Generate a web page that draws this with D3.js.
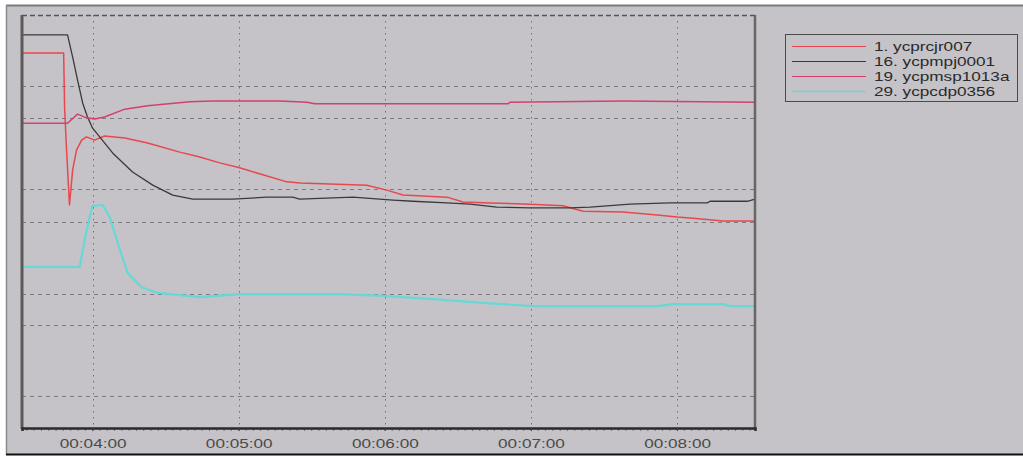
<!DOCTYPE html>
<html>
<head>
<meta charset="utf-8">
<script src="https://cdn.jsdelivr.net/npm/d3@7"></script>
<style>
  body { margin: 0; background: #fff; }
  svg { display: block; }
  text { font-family: "Liberation Sans", Arial, sans-serif; }
</style>
</head>
<body>
<div id="chart"></div>
<script>
// time in seconds, value on a 0-100 scale
const seriesNames = ['1. ycprcjr007', '16. ycpmpj0001', '19. ycpmsp1013a', '29. ycpcdp0356'];
const seriesColors = ['#e8474e', '#3a3a3a', '#d4406e', '#66d8d6'];
const seriesWidths = [1.5, 1.3, 1.5, 2.2];

const red = [
  [211, 90.8], [228.1, 90.8], [228.5, 77.5], [229.3, 67.3], [230.5, 54.0], [231.8, 62.5],
  [233.4, 67.3], [235.5, 69.7], [237.5, 70.5], [240.8, 69.7], [244.9, 70.7], [253.2, 70.2],
  [262.6, 69.0], [275.8, 66.8], [284, 65.6], [292.2, 64.2], [300.4, 63.0], [309.9, 61.3],
  [319.7, 59.6], [325.1, 59.3], [337.4, 59.1], [352.6, 58.8], [360.8, 57.6], [367.4, 56.4],
  [385.5, 55.9], [392.1, 54.7], [403.2, 54.5], [419.6, 54.2], [433.2, 53.8], [441.4, 52.5],
  [457.8, 52.3], [471.8, 51.6], [480, 51.1], [486.6, 50.8], [498.9, 50.1], [512, 50.1]
];
const black = [
  [211, 95.2], [229.7, 95.2], [231.8, 89.8], [233.8, 84.3], [235.9, 78.7], [237.9, 75.3],
  [240, 72.6], [242.9, 70.5], [248.2, 66.6], [256.4, 62.0], [264.7, 58.8], [272.9, 56.4],
  [281.1, 55.4], [297.5, 55.4], [311.5, 55.9], [322.2, 55.9], [325, 55.4], [346.9, 55.9],
  [363.3, 55.2], [371.5, 54.9], [385.5, 54.5], [395, 54.2], [406, 53.5], [419.6, 53.3],
  [436, 53.3], [444.3, 53.5], [460.7, 54.2], [477.2, 54.5], [492.4, 54.5], [493.6, 54.9],
  [508.8, 54.9], [512, 55.4]
];
const pink = [
  [211, 73.8], [229.7, 73.8], [233.8, 76.0], [237.5, 75.1], [240.8, 74.8], [244.9, 75.3],
  [253.2, 77.2], [262.6, 78.0], [279.9, 79.0], [289.3, 79.2], [316.9, 79.2], [328, 78.9],
  [331.2, 78.5], [410.6, 78.5], [411.4, 78.9], [457.8, 79.2], [512, 78.9]
];
const cyan = [
  [211, 39.0], [234.7, 39.0], [236.7, 45.5], [238.8, 51.1], [240, 53.8], [244.1, 54.0],
  [247, 51.1], [250.3, 44.8], [254.4, 37.5], [260.1, 34.1], [266.7, 32.7], [284, 31.7],
  [300.4, 32.4], [341.5, 32.4], [359.2, 32.0], [379.7, 31.2], [400.3, 30.3], [420.8, 29.5],
  [471.8, 29.5], [478.4, 30.0], [498.9, 30.0], [501.8, 29.5], [512, 29.5]
];
const allSeries = [red, black, pink, cyan];

const xTicks = [240, 300, 360, 420, 480];
const xTickLabels = ['00:04:00', '00:05:00', '00:06:00', '00:07:00', '00:08:00'];
const yGridA = [25, 50, 75];
const yGridB = [7.7, 32.5, 57.8, 82.8];

const W = 1023, H = 459;
const plot = { left: 22, top: 15, right: 755, bottom: 428 };
const stretch = 1.32; // text in the picture is drawn wider than normal

const svg = d3.select('#chart').append('svg')
  .attr('width', W).attr('height', H);

// panel background
svg.append('rect')
  .attr('x', 7).attr('y', 6).attr('width', W - 7).attr('height', 448)
  .attr('fill', '#c5c3c7');
svg.append('line').attr('x1', 6).attr('x2', W).attr('y1', 5.5).attr('y2', 5.5)
  .attr('stroke', '#7a7a7a').attr('stroke-width', 2);
svg.append('line').attr('x1', 6.5).attr('x2', 6.5).attr('y1', 5).attr('y2', 455)
  .attr('stroke', '#8a8a8a').attr('stroke-width', 1.5);
svg.append('line').attr('x1', 6).attr('x2', W).attr('y1', 454.5).attr('y2', 454.5)
  .attr('stroke', '#111').attr('stroke-width', 2);

const x = d3.scaleLinear().domain([211, 512]).range([plot.left, plot.right]);
const y = d3.scaleLinear().domain([0, 100]).range([plot.bottom, plot.top]);

// grid
const grid = svg.append('g');
grid.selectAll('.hA').data(yGridA.concat(yGridB)).enter().append('line')
  .attr('x1', plot.left).attr('x2', plot.right)
  .attr('y1', d => Math.round(y(d)) + 0.5).attr('y2', d => Math.round(y(d)) + 0.5)
  .attr('stroke', '#7d7d80').attr('stroke-width', 1)
  .attr('stroke-dasharray', '4,4');
grid.selectAll('.v').data(xTicks).enter().append('line')
  .attr('x1', d => Math.round(x(d)) + 0.5).attr('x2', d => Math.round(x(d)) + 0.5)
  .attr('y1', plot.top).attr('y2', plot.bottom)
  .attr('stroke', '#707070').attr('stroke-width', 1)
  .attr('stroke-dasharray', '1.5,4.5');
// top edge dashed
grid.append('line')
  .attr('x1', plot.left).attr('x2', plot.right).attr('y1', plot.top + 0.5).attr('y2', plot.top + 0.5)
  .attr('stroke', '#555').attr('stroke-width', 1.5).attr('stroke-dasharray', '5,3');

// series
const line = d3.line().x(d => x(d[0])).y(d => y(d[1]));
svg.append('g').selectAll('path').data(allSeries).enter().append('path')
  .attr('d', line)
  .attr('fill', 'none')
  .attr('stroke', (d, i) => seriesColors[i])
  .attr('stroke-width', (d, i) => seriesWidths[i])
  .attr('stroke-linejoin', 'round');

// frame: left, right, bottom
svg.append('line').attr('x1', plot.left).attr('x2', plot.left).attr('y1', plot.top).attr('y2', plot.bottom + 1)
  .attr('stroke', '#5a5a5a').attr('stroke-width', 3);
svg.append('line').attr('x1', plot.right).attr('x2', plot.right).attr('y1', plot.top).attr('y2', plot.bottom + 1)
  .attr('stroke', '#666').attr('stroke-width', 2.5);

const xAxis = d3.axisBottom(x)
  .tickValues(xTicks)
  .tickFormat((d, i) => xTickLabels[i])
  .tickSize(3)
  .tickPadding(8);
const gx = svg.append('g')
  .attr('transform', `translate(0,${plot.bottom})`)
  .call(xAxis);
gx.select('.domain').attr('stroke', '#2a2a2a').attr('stroke-width', 2.5);
gx.selectAll('.tick line').attr('stroke', '#444');
gx.selectAll('.tick text')
  .attr('fill', '#4a4a4a')
  .style('font-size', '13px')
  .attr('font-family', '"Liberation Sans", Arial, sans-serif');
// minor ticks on the bottom axis
gx.append('g').selectAll('line').data(d3.range(213, 512, 3)).enter().append('line')
  .attr('x1', d => x(d)).attr('x2', d => x(d)).attr('y1', 0).attr('y2', 2.5)
  .attr('stroke', '#333').attr('stroke-width', 1);

function widen(sel) {
  sel.each(function () {
    const w = this.getComputedTextLength();
    d3.select(this).attr('textLength', w * stretch).attr('lengthAdjust', 'spacingAndGlyphs');
  });
}
widen(gx.selectAll('.tick text'));

// legend
const legend = svg.append('g').attr('transform', 'translate(785,34)');
legend.append('rect')
  .attr('x', 0.5).attr('y', 0.5).attr('width', 232).attr('height', 67)
  .attr('fill', '#c5c3c7').attr('stroke', '#4a4a4a').attr('stroke-width', 1);
const rows = legend.selectAll('.row').data(seriesNames).enter().append('g')
  .attr('transform', (d, i) => `translate(0,${12.5 + i * 15})`);
rows.append('line')
  .attr('x1', 7).attr('x2', 81).attr('y1', 0).attr('y2', 0)
  .attr('stroke', (d, i) => seriesColors[i])
  .attr('stroke-width', (d, i) => i === 3 ? 1.6 : 1.2);
const legendText = rows.append('text')
  .attr('x', 89).attr('y', 4.5)
  .attr('fill', '#2a2a2a')
  .style('font-size', '13px')
  .text(d => d);
widen(legendText);
</script>
</body>
</html>
